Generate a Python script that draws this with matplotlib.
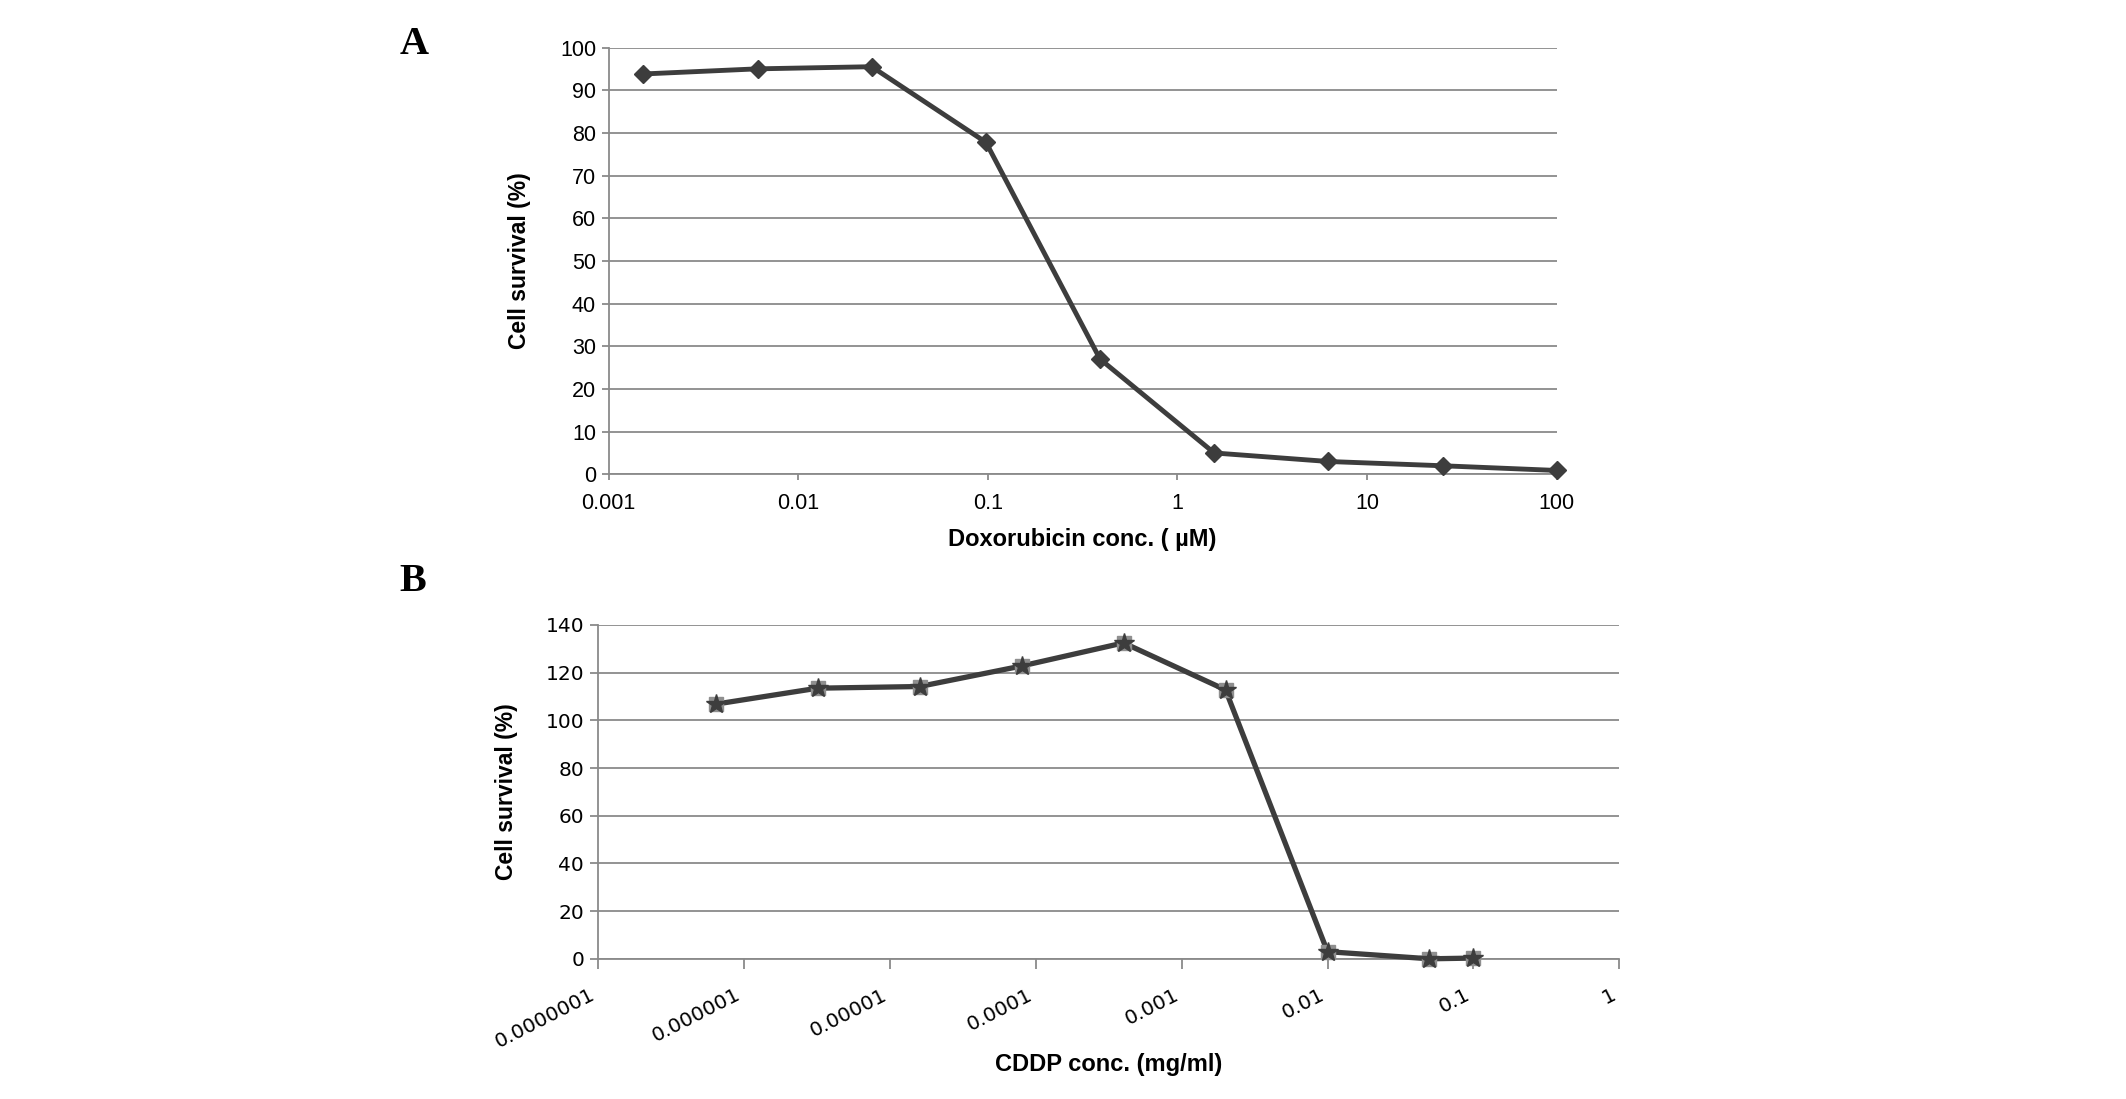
import matplotlib
matplotlib.use("Agg")
import matplotlib.pyplot as plt
from matplotlib.ticker import FixedLocator, FixedFormatter, NullLocator

# ---------------- data ----------------
dox_conc = [0.00152587890625, 0.006103515625, 0.0244140625, 0.09765625,
            0.390625, 1.5625, 6.25, 25, 100]
dox_survival = [93.8, 95.0, 95.5, 77.8, 27.0, 5.0, 3.0, 2.0, 0.9]

cddp_conc = [0.00000064, 0.0000032, 0.000016, 0.00008, 0.0004, 0.002,
             0.01, 0.05, 0.1]
cddp_survival = [106.8, 113.5, 114.2, 122.8, 132.5, 112.8, 3.0, 0.0, 0.3]

a_xticks = [0.001, 0.01, 0.1, 1, 10, 100]
a_xticklabels = ['0.001', '0.01', '0.1', '1', '10', '100']
a_yticks = [0, 10, 20, 30, 40, 50, 60, 70, 80, 90, 100]

b_xticks = [1e-7, 1e-6, 1e-5, 1e-4, 1e-3, 1e-2, 1e-1, 1]
b_xticklabels = ['0.0000001', '0.000001', '0.00001', '0.0001', '0.001',
                 '0.01', '0.1', '1']
b_yticks = [0, 20, 40, 60, 80, 100, 120, 140]

a_xlabel = 'Doxorubicin conc. ( µM)'
b_xlabel = 'CDDP conc. (mg/ml)'
ylabel = 'Cell survival (%)'

# ---------------- figure ----------------
W, H = 2126, 1099
fig = plt.figure(figsize=(W / 100, H / 100), dpi=100)

def rect(l, r, t, b):
    return [l / W, 1 - b / H, (r - l) / W, (b - t) / H]

grid_c = '#8a8a8a'
line_c = '#3d3d3d'

axA = fig.add_axes(rect(608.6, 1556.7, 47.5, 474.3))
axB = fig.add_axes(rect(598.0, 1619.3, 625.0, 958.8))

for ax in (axA, axB):
    ax.set_xscale('log')
    for s in ('top', 'right'):
        ax.spines[s].set_visible(False)
    for s in ('left', 'bottom'):
        ax.spines[s].set_color(grid_c)
        ax.spines[s].set_linewidth(1.3)
    ax.yaxis.grid(True, color=grid_c, linewidth=1.3)
    ax.set_axisbelow(True)
    ax.xaxis.set_minor_locator(NullLocator())
    ax.tick_params(which='major', color=grid_c, width=1.3)

# Panel A
axA.plot(dox_conc, dox_survival, color=line_c, lw=3.5, marker='D', ms=9,
         mfc=line_c, mec=line_c, clip_on=False, zorder=4)
axA.set_xlim(0.001, 100)
axA.set_ylim(0, 100)
axA.xaxis.set_major_locator(FixedLocator(a_xticks))
axA.xaxis.set_major_formatter(FixedFormatter(a_xticklabels))
axA.set_yticks(a_yticks)
axA.tick_params(axis='x', length=4.5, pad=9, labelsize=15.5)
axA.tick_params(axis='y', length=5, pad=4, labelsize=15.5)
for lab in axA.get_xticklabels() + axA.get_yticklabels():
    lab.set_family('Liberation Sans')
axA.set_ylabel(ylabel, fontsize=16.5, fontweight='bold', family='Liberation Sans')
axA.yaxis.set_label_coords(-0.0823, 0.5)
axA.set_xlabel(a_xlabel, fontsize=17, fontweight='bold', family='Liberation Sans')
axA.xaxis.set_label_coords(0.5, -0.1516)
axA.xaxis.label.set_va('center')

# Panel B
axB.plot(cddp_conc, cddp_survival, color=line_c, lw=3.8, clip_on=False, zorder=3)
axB.plot(cddp_conc, cddp_survival, ls='none', marker='s', ms=10.5,
         mfc='#8f8f8f', mec='#8f8f8f', clip_on=False, zorder=4)
axB.plot(cddp_conc, cddp_survival, ls='none', marker='*', ms=15,
         mfc=line_c, mec=line_c, clip_on=False, zorder=5)
axB.set_xlim(1e-7, 1)
axB.set_ylim(0, 140)
axB.xaxis.set_major_locator(FixedLocator(b_xticks))
axB.xaxis.set_major_formatter(FixedFormatter(b_xticklabels))
axB.set_yticks(b_yticks)
axB.tick_params(axis='x', length=7, pad=12, labelsize=14.5)
axB.tick_params(axis='y', length=6, pad=4, labelsize=14.5)
for lab in axB.get_xticklabels():
    lab.set_rotation(27)
    lab.set_ha('right')
    lab.set_va('top')
for lab in axB.get_xticklabels() + axB.get_yticklabels():
    lab.set_family('DejaVu Sans')
axB.set_ylabel(ylabel, fontsize=16.5, fontweight='bold', family='Liberation Sans')
axB.yaxis.set_label_coords(-0.0786, 0.5)
axB.set_xlabel(b_xlabel, fontsize=17, fontweight='bold', family='Liberation Sans')
axB.xaxis.set_label_coords(0.5, -0.317)
axB.xaxis.label.set_va('center')

# Panel letters
fig.text(414 / W, 1 - 44 / H, 'A', fontsize=29, fontweight='bold',
         family='Liberation Serif', ha='center', va='center')
fig.text(413 / W, 1 - 582 / H, 'B', fontsize=29, fontweight='bold',
         family='Liberation Serif', ha='center', va='center')

fig.savefig('out.png', dpi=100, facecolor='white')
